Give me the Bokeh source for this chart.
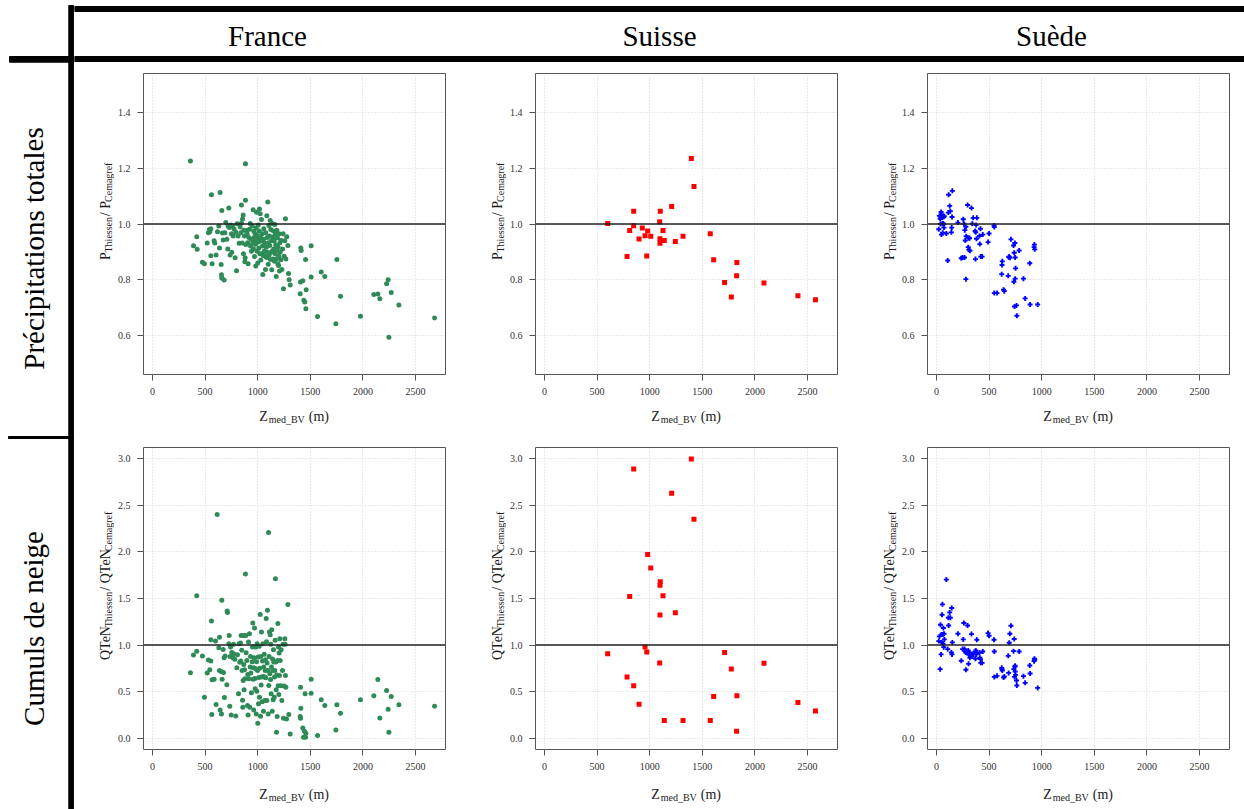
import math
from bokeh.plotting import figure
from bokeh.layouts import row, column
from bokeh.models import Range1d, Span, FixedTicker, NumeralTickFormatter
from bokeh.core.properties import value
from bokeh.embed import file_html
from bokeh.resources import INLINE

NAN = float("nan")
SER = "Liberation Serif"

# ---------------- data ----------------
countries = ["France", "Suisse", "Suède"]
row_titles = ["Précipitations totales", "Cumuls de neige"]
x_ticks = [0, 500, 1000, 1500, 2000, 2500]
p_ticks = [0.6, 0.8, 1.0, 1.2, 1.4]
q_ticks = [0.0, 0.5, 1.0, 1.5, 2.0, 2.5, 3.0]

# France: total precipitation ratio
france_z_p = [361, 884, 390, 421, 425, 475, 494, 520, 532, 542,
              545, 555, 561, 555, 567, 586, 593, 605, 618, 631,
              637, 643, 653, 656, 659, 659, 665, 672, 681, 688,
              697, 707, 716, 719, 726, 732, 738, 745, 751, 754,
              761, 767, 776, 786, 792, 799, 805, 814, 824, 833,
              840, 846, 846, 852, 856, 862, 865, 868, 875, 878,
              881, 884, 887, 894, 900, 906, 909, 916, 922, 929,
              932, 938, 941, 948, 954, 957, 960, 963, 967, 970,
              973, 976, 979, 982, 986, 989, 992, 995, 998, 1001,
              1005, 1008, 1011, 1014, 1017, 1020, 1024, 1027, 1030, 1033,
              1036, 1039, 1043, 1046, 1049, 1052, 1055, 1058, 1062, 1065,
              1068, 1074, 1077, 1081, 1084, 1087, 1090, 1093, 1096, 1100,
              1103, 1106, 1109, 1112, 1115, 1119, 1122, 1125, 1128, 1131,
              1134, 1138, 1141, 1144, 1147, 1150, 1153, 1157, 1160, 1163,
              1166, 1169, 1172, 1176, 1179, 1182, 1185, 1188, 1192, 1195,
              1198, 1201, 1204, 1207, 1211, 1214, 1220, 1223, 1230, 1236,
              1242, 1245, 1252, 1258, 1264, 1268, 1277, 1287, 1293, 1299,
              1309, 1407, 1410, 1413, 1404, 1429, 1439, 1448, 1455, 1458,
              1461, 1508, 1508, 1569, 1604, 1638, 1743, 1753, 1787, 1977,
              2104, 2142, 2161, 2225, 2240, 2247, 2269, 2342, 2681]
france_p_ratio = [1.226, 1.216, 0.922, 0.954, 0.909, 0.863, 0.857, 0.932, 0.969, 0.980,
                  0.972, 0.983, 1.105, 0.886, 0.857, 0.940, 0.932, 0.889, 0.972, 0.993,
                  0.914, 1.113, 0.855, 0.818, 0.806, 1.048, 0.968, 0.943, 0.799, 0.969,
                  1.005, 0.945, 0.910, 0.992, 1.057, 0.987, 0.889, 0.996, 0.965, 0.899,
                  0.993, 0.957, 0.982, 0.879, 0.970, 0.832, 1.001, 0.957, 0.931, 0.989,
                  0.969, 1.004, 1.068, 0.932, 1.018, 1.032, 0.893, 0.978, 0.957, 0.865,
                  0.879, 1.085, 0.926, 0.977, 0.965, 0.933, 0.857, 0.952, 0.981, 1.002,
                  0.921, 0.945, 0.902, 0.993, 0.932, 1.051, 0.911, 0.974, 0.952, 0.883,
                  0.940, 0.965, 0.927, 0.849, 0.986, 1.042, 0.945, 0.902, 0.959, 0.860,
                  0.996, 0.935, 0.914, 0.975, 1.054, 0.893, 1.037, 0.952, 0.871, 0.940,
                  1.016, 0.893, 0.965, 0.921, 0.819, 0.887, 0.945, 0.983, 0.902, 0.932,
                  0.885, 0.837, 0.969, 0.917, 0.880, 1.030, 0.952, 0.899, 1.079, 0.856,
                  0.933, 0.995, 0.889, 0.957, 0.923, 1.013, 0.873, 0.980, 0.899, 0.941,
                  0.836, 1.002, 0.904, 0.953, 0.874, 0.975, 0.910, 0.939, 0.866, 0.998,
                  0.893, 0.964, 0.925, 0.812, 0.875, 0.978, 0.905, 0.951, 0.857, 0.917,
                  0.851, 0.885, 0.965, 0.831, 0.933, 0.899, 0.872, 0.941, 0.837, 0.910,
                  0.965, 0.768, 0.884, 0.940, 1.019, 0.874, 0.954, 0.923, 0.822, 0.800,
                  0.781, 0.792, 0.914, 0.905, 0.750, 0.796, 0.726, 0.720, 0.873, 0.696,
                  0.764, 0.922, 0.810, 0.668, 0.828, 0.812, 0.642, 0.873, 0.741, 0.669,
                  0.747, 0.749, 0.732, 0.786, 0.800, 0.594, 0.754, 0.709, 0.663]

# France: snow accumulation ratio
france_z_q = [361, 390, 421, 421, 475, 494, 520, 532, 545, 555,
              561, 555, 567, 564, 586, 599, 605, 615, 631, 637,
              637, 643, 653, 656, 659, 662, 672, 675, 681, 684,
              691, 707, 710, 713, 726, 729, 735, 738, 742, 748,
              754, 764, 770, 776, 783, 792, 802, 808, 818, 824,
              830, 837, 840, 843, 849, 852, 856, 859, 862, 865,
              868, 871, 875, 878, 884, 887, 890, 897, 903, 906,
              909, 913, 916, 922, 925, 929, 932, 935, 941, 948,
              951, 954, 957, 960, 963, 967, 970, 973, 976, 979,
              982, 986, 989, 992, 995, 998, 1001, 1005, 1008, 1011,
              1014, 1017, 1020, 1024, 1027, 1030, 1033, 1036, 1039, 1043,
              1046, 1049, 1052, 1055, 1058, 1062, 1065, 1068, 1071, 1074,
              1077, 1081, 1084, 1087, 1090, 1093, 1096, 1100, 1103, 1106,
              1109, 1112, 1115, 1119, 1122, 1125, 1128, 1131, 1134, 1138,
              1141, 1144, 1147, 1150, 1153, 1157, 1160, 1163, 1166, 1169,
              1172, 1176, 1179, 1182, 1185, 1188, 1192, 1195, 1198, 1201,
              1204, 1207, 1211, 1214, 1220, 1223, 1230, 1236, 1242, 1245,
              1252, 1258, 1261, 1264, 1268, 1274, 1287, 1296, 1309, 1407,
              1410, 1404, 1407, 1429, 1436, 1445, 1451, 1455, 1458, 1508,
              1508, 1569, 1604, 1638, 1743, 1753, 1787, 1977, 2104, 2142,
              2161, 2225, 2240, 2247, 2269, 2342, 2681]
france_q_ratio = [0.703, 0.893, 0.933, 1.529, 0.883, 0.441, 0.700, 0.840, 0.736, 0.829,
                  1.259, 1.058, 0.628, 0.255, 0.635, 1.044, 0.362, 2.400, 0.972, 1.084,
                  0.728, 0.305, 0.718, 0.262, 1.482, 0.635, 0.954, 0.707, 0.865, 0.438,
                  0.883, 0.574, 1.367, 1.349, 1.015, 1.102, 0.344, 0.879, 0.980, 0.251,
                  0.922, 0.865, 1.008, 0.904, 0.847, 0.240, 0.757, 0.897, 0.477, 1.015,
                  0.815, 1.023, 0.829, 1.102, 0.944, 0.728, 0.409, 0.334, 0.621, 1.102,
                  0.793, 0.520, 0.736, 0.639, 1.762, 1.102, 0.919, 0.836, 0.352, 0.685,
                  0.251, 1.033, 0.639, 1.123, 0.334, 0.764, 0.879, 0.700, 0.488, 0.822,
                  0.980, 1.238, 0.635, 0.757, 0.305, 0.865, 1.184, 0.642, 0.531, 0.750,
                  0.980, 0.262, 0.822, 0.506, 1.015, 0.728, 0.161, 0.872, 0.370, 0.653,
                  0.987, 0.441, 0.753, 1.328, 0.237, 0.879, 0.571, 1.141, 0.657, 0.391,
                  0.829, 1.015, 0.664, 0.291, 0.764, 0.901, 0.657, 0.405, 0.728, 0.843,
                  0.649, 1.285, 1.037, 0.405, 0.807, 1.374, 0.728, 0.262, 2.207, 0.567,
                  0.879, 1.141, 0.692, 1.112, 0.632, 1.008, 0.477, 0.764, 1.166, 0.291,
                  0.850, 0.728, 0.413, 0.951, 0.818, 0.441, 0.657, 0.728, 1.051, 1.712,
                  0.818, 0.520, 0.065, 0.678, 0.233, 0.836, 1.231, 0.563, 0.980, 0.470,
                  0.915, 0.675, 1.069, 0.836, 0.563, 0.951, 0.405, 0.728, 1.008, 0.215,
                  0.560, 1.069, 1.008, 0.675, 0.549, 0.208, 1.435, 0.255, 0.047, 0.549,
                  0.323, 0.233, 0.215, 0.111, 0.011, 0.075, 0.477, 0.011, 0.054, 0.635,
                  0.484, 0.029, 0.413, 0.352, 0.090, 0.359, 0.269, 0.413, 0.456, 0.632,
                  0.219, 0.513, 0.312, 0.065, 0.449, 0.359, 0.344]

# Suisse
suisse_z = [601, 785, 810, 848, 848, 899, 930, 956, 972, 981,
            1010, 1095, 1101, 1098, 1098, 1127, 1139, 1209, 1244, 1317,
            1396, 1421, 1576, 1608, 1712, 1776, 1826, 1829, 2086, 2409,
            2576]
suisse_p_ratio = [1.002, 0.883, 0.977, 1.046, 0.994, 0.946, 0.986, 0.958, 0.885, 0.975,
                  0.956, 1.008, 1.046, 0.947, 0.931, 0.977, 0.941, 1.063, 0.937, 0.956,
                  1.235, 1.135, 0.965, 0.872, 0.790, 0.738, 0.814, 0.862, 0.788, 0.743,
                  0.728]
suisse_q_ratio = [0.908, 0.657, 1.521, 2.888, 0.563, 0.366, NAN, 0.980, 0.926, 1.973,
                  1.826, 0.807, 1.679, 1.643, 1.324, 1.529, 0.190, 2.630, 1.346, 0.190,
                  2.996, 2.350, 0.190, 0.449, 0.922, 0.743, 0.075, 0.456, 0.804, 0.384,
                  0.294]

# Suède
suede_z = [22, 28, 35, 38, 44, 47, 50, 53, 57, 60,
           63, 66, 69, 72, 75, 94, 107, 113, 116, 126,
           132, 142, 145, 148, 151, 204, 236, 248, 255, 261,
           267, 270, 274, 280, 280, 283, 296, 302, 305, 308,
           315, 318, 333, 340, 349, 368, 371, 374, 377, 381,
           384, 409, 412, 418, 421, 434, 440, 491, 500, 547,
           550, 550, 576, 620, 623, 626, 638, 645, 682, 686,
           692, 698, 708, 733, 736, 739, 742, 745, 748, 748,
           752, 761, 764, 786, 827, 843, 887, 890, 928, 931,
           934, 962]
suede_p_ratio = [0.981, 1.029, 1.019, 1.000, 1.043, 0.962, 1.035, 1.022, 1.001, 0.969,
                 1.002, 1.025, 0.999, 0.987, 1.028, 0.966, 0.869, 1.041, 1.105, 1.065,
                 1.046, 0.970, 0.987, 1.025, 1.119, 1.005, 0.877, 0.880, 1.017, 1.001,
                 0.880, 0.978, 0.941, 0.990, 0.802, 0.956, 1.068, 0.917, 0.950, 0.908,
                 0.949, 0.904, 1.057, 1.001, 1.022, 0.975, 0.874, 0.970, 0.996, 0.947,
                 1.022, 0.957, 0.928, 0.983, 0.883, 0.883, 0.962, 0.935, 0.966, 0.995,
                 0.989, 0.752, 0.752, 0.820, 0.853, 0.866, 0.764, 0.759, 0.814, 0.881,
                 0.883, 0.879, 0.945, 0.923, 0.793, 0.897, 0.704, 0.932, 0.880, 0.804,
                 0.841, 0.708, 0.671, 0.905, 0.804, 0.733, 0.859, 0.711, 0.917, 0.926,
                 0.909, 0.711]
suede_q_ratio = [1.043, 1.093, 0.742, 1.219, 0.900, 1.115, 1.029, 1.326, 1.437, 1.115,
                 1.014, 1.183, 0.978, 1.122, 1.061, 1.703, 0.957, 1.294, 1.211, 1.351,
                 1.294, 0.921, 1.398, 0.900, 1.029, 1.122, 0.832, 0.957, 1.061, 1.237,
                 0.957, 0.943, 0.930, 0.735, 0.921, 0.921, 1.211, 0.943, 0.799, 0.896,
                 0.921, 0.864, 1.118, 0.878, 0.907, 0.925, 0.853, 0.943, 0.900, 0.915,
                 1.057, 0.918, 0.864, 0.849, 0.810, 0.810, 0.932, 1.129, 1.100, 1.057,
                 0.932, 0.659, 0.670, 0.756, 0.742, 0.728, 0.652, 0.663, 0.885, 0.702,
                 1.025, 1.122, 1.208, 0.935, 0.742, 1.065, 0.659, 0.767, 0.717, 0.778,
                 0.681, 0.620, 0.566, 0.932, 0.667, 0.595, 0.781, 0.695, 0.828, 0.853,
                 0.843, 0.541]

# ---------------- helpers ----------------
TIMES_W = {"P": 556, "T": 611, "h": 500, "i": 278, "e": 444, "s": 389, "n": 500,
           " ": 250, "/": 278, "C": 667, "m": 778, "a": 444, "g": 500, "r": 333,
           "f": 333, "Q": 722, "N": 722, "Z": 611, "d": 500, "_": 500, "B": 667,
           "V": 722, "(": 333, ")": 333}


def tw(s, size):
    return sum(TIMES_W.get(c, 500) for c in s) / 1000.0 * size * 1.04


def blank(width, height):
    f = figure(width=width, height=height, x_range=Range1d(0, width),
               y_range=Range1d(0, height), output_backend="svg", toolbar_location=None,
               min_border=0, x_axis_type=None, y_axis_type=None)
    f.outline_line_color = None
    f.grid.visible = False
    return f


def rich_text(f, pieces, base, center, vertical):
    """Main text with subscripts; pieces = (text, font px, baseline drop px, gap px)."""
    total = sum(tw(t, s) + g for t, s, _, g in pieces)
    pos = center - total / 2.0
    for t, s, shift, g in pieces:
        pos += g
        if vertical:
            x, y, ang = base + shift, pos, math.pi / 2
        else:
            x, y, ang = pos, base - shift, 0.0
        f.text(x=[x], y=[y], text=[t], angle=[ang], text_font=value(SER),
               text_font_size=value(f"{s}px"), text_align="left",
               text_baseline="alphabetic", text_color="#1a1a1a")
        pos += tw(t, s)


X_LO, X_HI = -85, 2785
FRAME_W = 302
YT_W = 40      # width of the strip holding the y title
XT_H = 30      # height of the strip holding the x title
FRAME_LEFT = 69


def panel_cell(xs, ys, marker, color, size, y_lo, y_hi, yticks, ytitle, cell_w,
               cell_h, b_top, b_bottom, xt_base):
    fig_w = cell_w - YT_W
    fig_h = cell_h - XT_H
    bb = b_bottom - XT_H
    frame_h = cell_h - b_top - b_bottom
    p = figure(width=fig_w, height=fig_h, x_range=Range1d(X_LO, X_HI),
               y_range=Range1d(y_lo, y_hi), output_backend="svg",
               toolbar_location=None, min_border_left=FRAME_LEFT - YT_W,
               min_border_right=fig_w - (FRAME_LEFT - YT_W) - FRAME_W,
               min_border_top=b_top, min_border_bottom=bb)
    p.outline_line_color = "#555555"
    p.outline_line_width = 1
    p.xaxis.ticker = FixedTicker(ticks=x_ticks)
    p.yaxis.ticker = FixedTicker(ticks=yticks)
    p.yaxis.formatter = NumeralTickFormatter(format="0.0")
    for ax in (p.xaxis[0], p.yaxis[0]):
        ax.axis_line_color = None
        ax.major_tick_line_color = "#555555"
        ax.major_tick_out = 6
        ax.major_tick_in = 0
        ax.minor_tick_line_color = None
        ax.major_label_text_font = SER
        ax.major_label_text_font_size = "10px"
        ax.major_label_text_color = "#333333"
    p.yaxis.major_label_standoff = 7
    p.xaxis.major_label_standoff = 7
    p.grid.grid_line_color = "#d4d4d4"
    p.grid.grid_line_dash = "1 2"
    p.grid.grid_line_width = 1
    p.add_layout(Span(location=1.0, dimension="width", line_color="#222222",
                      line_width=1.5))
    p.scatter(xs, ys, marker=marker, size=size, fill_color=color, line_color=color,
              line_width=0)

    # y title strip (left of the plot)
    yt = blank(YT_W, fig_h)
    rich_text(yt, ytitle, base=31, center=bb + frame_h / 2.0 + 2, vertical=True)
    # x title strip (below the plot)
    xt = blank(cell_w, XT_H)
    rich_text(xt, [("Z", 14, 0, 0), ("med_BV", 10, 3, 0.5), ("(m)", 14, 0, 2.5)],
              base=xt_base, center=FRAME_LEFT + FRAME_W / 2.0, vertical=False)
    return column(row(yt, p), xt)


P_TITLE = [("P", 14, 0, 0), ("Thiessen", 10, 3, 0.5), ("/ P", 14, 0, 4.5),
           ("Cemagref", 10, 3, 0.5)]
Q_TITLE = [("QTeN", 14, 0, 0), ("Thiessen", 10, 3, 0.5), ("/ QTeN", 14, 0, 4.5),
           ("Cemagref", 10, 3, 0.5)]

styles = [("circle", "#2E8B57", 5), ("square", "#FF0000", 5), ("plus", "#0000FF", 5)]
cell_widths = [392, 392, 386]
top_data = [(france_z_p, france_p_ratio), (suisse_z, suisse_p_ratio), (suede_z, suede_p_ratio)]
bot_data = [(france_z_q, france_q_ratio), (suisse_z, suisse_q_ratio), (suede_z, suede_q_ratio)]

top_row = []
bot_row = []
for i in range(3):
    mk, col, sz = styles[i]
    cw = cell_widths[i]
    top_row.append(panel_cell(top_data[i][0], top_data[i][1], mk, col, sz, 0.46, 1.54,
                              p_ticks, P_TITLE, cw, 374, 11, 62, xt_base=20))
    bot_row.append(panel_cell(bot_data[i][0], bot_data[i][1], mk, col, sz, -0.12, 3.12,
                              q_ticks, Q_TITLE, cw, 371, 9, 60, xt_base=15))

# left column (row labels + thick lines)
LW, LH = 74, 809
left = blank(LW, LH)
left.quad(left=[68.3], right=[73.3], bottom=[0], top=[LH - 5], color="black")
left.quad(left=[9], right=[LW], bottom=[LH - 61.7], top=[LH - 56], color="black")
left.quad(left=[8], right=[LW], bottom=[LH - 438], top=[LH - 436], color="black")
left.text(x=[33, 33], y=[LH - 248, LH - 628], text=row_titles, angle=[math.pi / 2] * 2,
          text_font=value(SER), text_font_size=value("29px"), text_align="center",
          text_baseline="middle", text_color="black")

# header
HW, HH = 1170, 62
header = blank(HW, HH)
header.quad(left=[0], right=[HW], bottom=[HH - 11], top=[HH - 6], color="black")
header.quad(left=[0], right=[HW], bottom=[HH - 61.7], top=[HH - 56], color="black")
header.text(x=[193, 585, 977], y=[HH - 35] * 3, text=countries, text_font=value(SER),
            text_font_size=value("29px"), text_align="center", text_baseline="middle",
            text_color="black")

# separator between the two rows
sep = blank(HW, 2)
sep.quad(left=[0], right=[HW], bottom=[0], top=[2], color="black")
sep.background_fill_color = "black"
sep.border_fill_color = "black"

layout = row(left, column(header, row(*top_row), sep, row(*bot_row)))

with open("out.html", "w") as fh:
    fh.write(file_html(layout, INLINE, title="Rapports Thiessen / Cemagref"))
